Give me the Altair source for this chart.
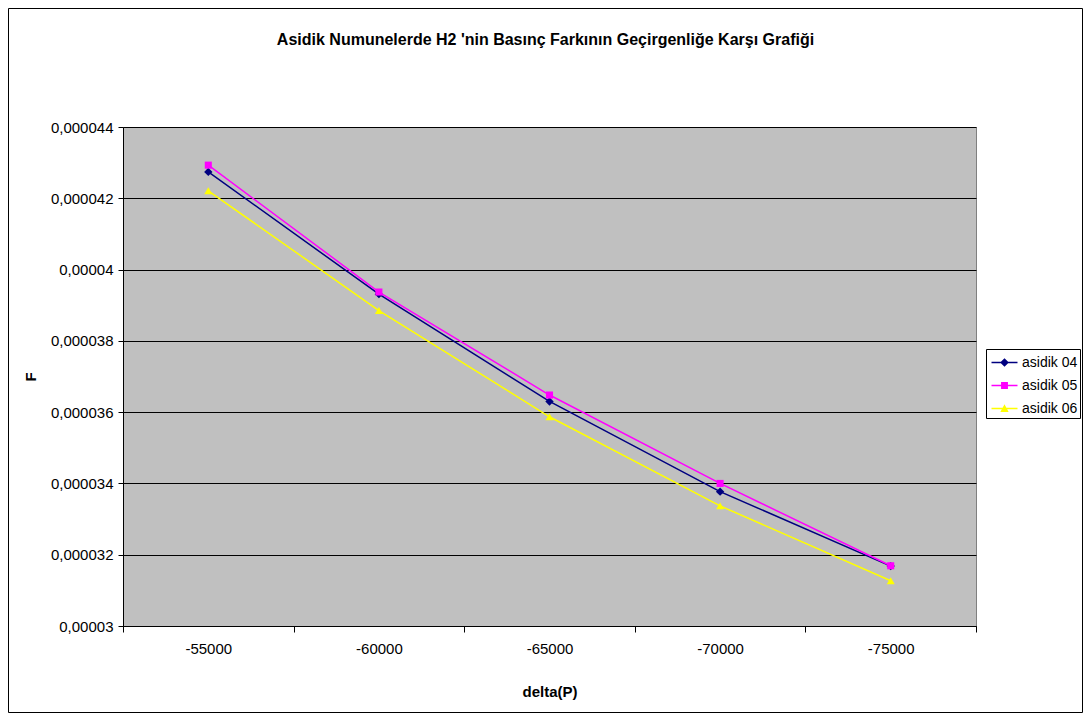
import altair as alt
import pandas as pd

# ---- data ----
delta_p = ["-55000", "-60000", "-65000", "-70000", "-75000"]
series_names = ["asidik 04", "asidik 05", "asidik 06"]
asidik_04 = [4.274e-5, 3.931e-5, 3.630e-5, 3.377e-5, 3.168e-5]
asidik_05 = [4.293e-5, 3.937e-5, 3.648e-5, 3.400e-5, 3.169e-5]
asidik_06 = [4.221e-5, 3.885e-5, 3.587e-5, 3.337e-5, 3.127e-5]
y_ticks = [0.00003, 0.000032, 0.000034, 0.000036, 0.000038, 0.00004, 0.000042, 0.000044]

title_text = "Asidik Numunelerde H2 'nin Basınç Farkının Geçirgenliğe Karşı Grafiği"

# ---- styles ----
series_colors = ["#000080", "#FF00FF", "#FFFF00"]
marker_shapes = ["diamond", "square", "triangle-up"]
marker_sizes = [70, 50, 64]
legend_paths = [
    "M-1.13,-0.06H1.13V0.06H-1.13Z M0,-0.38L0.38,0L0,0.38L-0.38,0Z",
    "M-1.13,-0.06H1.13V0.06H-1.13Z M-0.3,-0.3H0.3V0.3H-0.3Z",
    "M-1.13,-0.06H1.13V0.06H-1.13Z M0,-0.36L0.36,0.3H-0.36Z",
]
FONT = "Liberation Sans"
W, H = 853, 499

rows = []
for name, vals in zip(series_names, [asidik_04, asidik_05, asidik_06]):
    for d, v in zip(delta_p, vals):
        rows.append({"dp": d, "F": v, "series": name})
df = pd.DataFrame(rows)

x_enc = alt.X(
    "dp:N",
    sort=delta_p,
    scale=alt.Scale(type="band", paddingInner=0, paddingOuter=0),
    axis=alt.Axis(
        title="delta(P)",
        tickBand="extent",
        labelAngle=0,
        labelFont=FONT,
        labelFontSize=15,
        labelColor="black",
        labelPadding=9,
        tickSize=6,
        tickColor="black",
        domainColor="black",
        grid=False,
        titleFont=FONT,
        titleFontSize=15,
        titleFontWeight="bold",
        titleColor="black",
        titleX=W / 2,
        titleY=65,
        titleBaseline="middle",
    ),
)
y_enc = alt.Y(
    "F:Q",
    scale=alt.Scale(domain=[0.00003, 0.000044], nice=False, zero=False),
    axis=alt.Axis(
        title="F",
        values=y_ticks,
        labelExpr="replace(format(datum.value, '.6~f'), '.', ',')",
        labelFont=FONT,
        labelFontSize=15,
        labelColor="black",
        labelPadding=5,
        tickSize=5,
        tickColor="black",
        domainColor="black",
        grid=True,
        gridColor="black",
        gridWidth=1,
        titleFont=FONT,
        titleFontSize=15,
        titleFontWeight="bold",
        titleColor="black",
        titleX=-93,
        titleY=H / 2,
        titleAngle=270,
        titleBaseline="middle",
    ),
)

legend_def = alt.Legend(
    title=None,
    orient="none",
    legendX=863,
    legendY=222,
    padding=2,
    strokeColor="black",
    fillColor="white",
    symbolSize=529,
    symbolStrokeWidth=0,
    symbolOpacity=1,
    symbolOffset=5,
    labelFont=FONT,
    labelFontSize=14,
    labelColor="black",
    labelOffset=6,
    rowPadding=4,
)

frame = alt.Chart(alt.Data(values=[{"a": 1}])).mark_rect(
    fill="white", fillOpacity=0, stroke="black", strokeWidth=1
).encode(
    x=alt.value(-114.5), x2=alt.value(959.5), y=alt.value(-118.5), y2=alt.value(585.5)
)

base = alt.Chart(df)

# invisible layer that carries the legend (colour + shape scales)
legend_layer = base.mark_point(filled=True, opacity=0).encode(
    x=x_enc,
    y=y_enc,
    color=alt.Color(
        "series:N",
        scale=alt.Scale(domain=series_names, range=series_colors),
        legend=legend_def,
    ),
    shape=alt.Shape(
        "series:N",
        scale=alt.Scale(domain=series_names, range=legend_paths),
        legend=legend_def,
    ),
)

series_layers = []
for name, col, shp, sz in zip(series_names, series_colors, marker_shapes, marker_sizes):
    sub = base.transform_filter(alt.datum.series == name)
    series_layers.append(
        sub.mark_line(strokeWidth=1.5, color=col).encode(x=x_enc, y=y_enc)
    )
    series_layers.append(
        sub.mark_point(filled=True, shape=shp, size=sz, opacity=1, color=col).encode(
            x=x_enc, y=y_enc
        )
    )

chart = (
    alt.layer(frame, legend_layer, *series_layers)
    .properties(
        width=W,
        height=H,
        title=alt.TitleParams(
            text=title_text,
            font=FONT,
            fontSize=16,
            fontWeight="bold",
            color="black",
            anchor="middle",
            offset=-40,
            dx=-4,
        ),
        autosize=alt.AutoSizeParams(type="none"),
        padding={"left": 115, "top": 119, "right": 107, "bottom": 87},
    )
    .configure(background="white")
    .configure_view(fill="#C0C0C0", stroke="#808080", strokeWidth=1)
)

chart.save("out.html", embed_options={"renderer": "svg", "actions": False})
